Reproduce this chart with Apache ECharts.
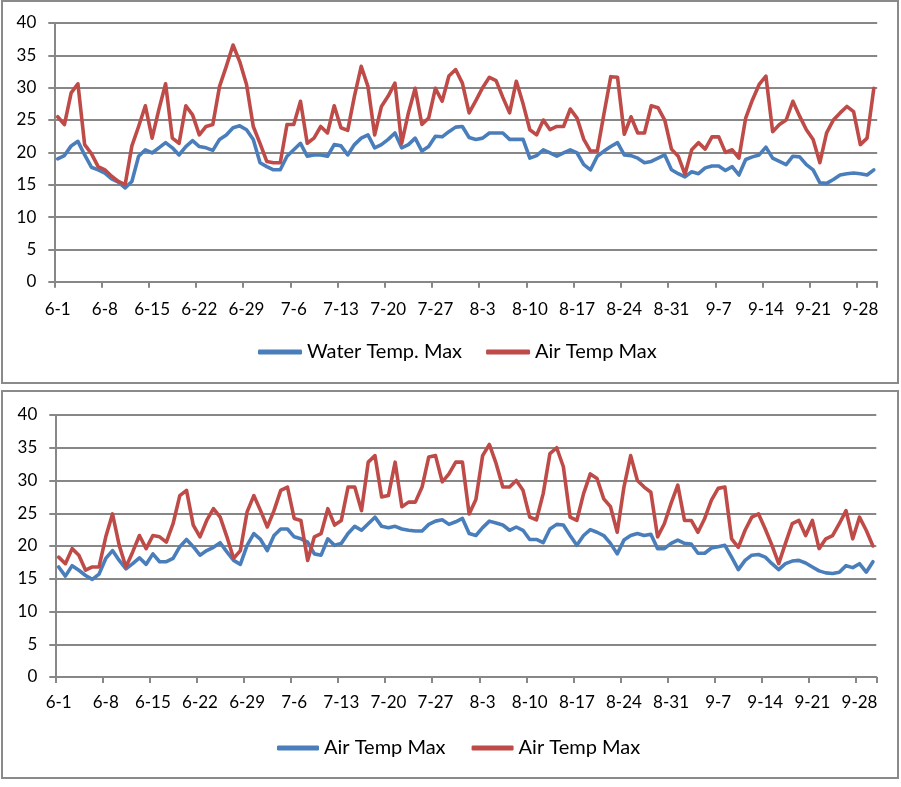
<!DOCTYPE html>
<html><head><meta charset="utf-8">
<script src="https://cdn.jsdelivr.net/npm/echarts@6/dist/echarts.min.js"></script>
<style>html,body{margin:0;padding:0;background:#fff}#c{width:901px;height:787px}</style>
</head><body><div id="c"></div><script>
const categories = [
'6-1','6-2','6-3','6-4','6-5','6-6','6-7','6-8','6-9','6-10','6-11','6-12','6-13','6-14','6-15','6-16','6-17','6-18','6-19','6-20','6-21','6-22','6-23','6-24','6-25','6-26','6-27','6-28','6-29','6-30',
'7-1','7-2','7-3','7-4','7-5','7-6','7-7','7-8','7-9','7-10','7-11','7-12','7-13','7-14','7-15','7-16','7-17','7-18','7-19','7-20','7-21','7-22','7-23','7-24','7-25','7-26','7-27','7-28','7-29','7-30','7-31',
'8-1','8-2','8-3','8-4','8-5','8-6','8-7','8-8','8-9','8-10','8-11','8-12','8-13','8-14','8-15','8-16','8-17','8-18','8-19','8-20','8-21','8-22','8-23','8-24','8-25','8-26','8-27','8-28','8-29','8-30','8-31',
'9-1','9-2','9-3','9-4','9-5','9-6','9-7','9-8','9-9','9-10','9-11','9-12','9-13','9-14','9-15','9-16','9-17','9-18','9-19','9-20','9-21','9-22','9-23','9-24','9-25','9-26','9-27','9-28','9-29','9-30'];

const yTicks = [0,5,10,15,20,25,30,35,40];

// Top chart
const waterTempMax = [
19.0,19.5,21.0,21.7,19.6,17.7,17.3,16.8,15.9,15.4,14.5,15.5,19.4,20.4,19.9,20.7,21.5,20.7,19.6,20.9,21.8,20.9,20.7,20.3,22.0,22.7,23.8,24.1,23.5,22.0,
18.4,17.8,17.3,17.3,19.4,20.4,21.4,19.4,19.6,19.6,19.4,21.2,21.0,19.6,21.2,22.2,22.7,20.7,21.2,22.0,23.0,20.7,21.2,22.2,20.2,20.9,22.5,22.4,23.2,23.9,24.0,
22.3,22.0,22.2,23.0,23.0,23.0,22.0,22.0,22.0,19.1,19.5,20.4,19.9,19.4,19.9,20.4,19.9,18.1,17.3,19.4,20.2,20.9,21.5,19.6,19.5,19.1,18.4,18.6,19.1,19.6,17.3,
16.7,16.2,17.0,16.7,17.6,17.9,17.9,17.2,17.8,16.5,18.9,19.3,19.6,20.8,19.1,18.6,18.1,19.4,19.3,18.1,17.3,15.3,15.2,15.8,16.5,16.7,16.8,16.7,16.5,17.3];

const airTempMaxTop = [
25.5,24.3,29.2,30.6,21.2,19.8,17.8,17.3,16.3,15.5,15.0,21.0,24.0,27.2,22.2,26.6,30.6,22.2,21.4,27.2,25.8,22.7,24.0,24.3,30.2,33.3,36.6,34.0,30.5,24.0,
21.4,18.6,18.4,18.4,24.3,24.3,27.9,21.4,22.2,24.0,23.0,27.2,23.8,23.4,28.7,33.3,30.2,22.7,27.1,28.7,30.7,21.4,26.1,29.9,24.3,25.3,29.9,27.9,31.8,32.8,30.7,
26.1,28.0,30.0,31.6,31.1,28.5,26.1,31.0,27.5,23.5,22.7,25.0,23.5,24.0,24.0,26.7,25.3,22.0,20.2,20.2,26.0,31.7,31.6,22.8,25.5,23.0,23.0,27.2,26.9,25.0,20.5,
19.4,16.6,20.4,21.5,20.5,22.4,22.4,20.0,20.4,19.1,25.3,28.1,30.5,31.8,23.2,24.3,25.0,27.9,25.6,23.5,22.0,18.4,23.0,25.0,26.1,27.1,26.3,21.2,22.2,29.9];

// Bottom chart
const airTempMaxBlue = [
16.8,15.4,17.0,16.3,15.5,14.9,15.7,18.1,19.3,17.8,16.5,17.3,18.2,17.2,18.8,17.6,17.6,18.1,19.9,21.0,19.9,18.6,19.3,19.8,20.5,19.1,17.8,17.2,20.1,21.9,
21.0,19.3,21.6,22.6,22.6,21.4,21.1,20.6,18.8,18.6,21.1,20.1,20.4,21.9,23.0,22.4,23.4,24.4,23.0,22.8,23.0,22.6,22.4,22.3,22.3,23.3,23.8,24.0,23.3,23.7,24.2,
21.9,21.6,22.8,23.8,23.5,23.2,22.4,22.9,22.4,21.0,21.0,20.5,22.6,23.3,23.2,21.6,20.1,21.6,22.5,22.1,21.6,20.4,18.8,20.9,21.6,21.9,21.6,21.8,19.6,19.6,20.4,
20.9,20.4,20.3,18.9,18.9,19.7,19.9,20.1,18.3,16.4,17.8,18.6,18.7,18.3,17.3,16.4,17.3,17.7,17.8,17.4,16.8,16.2,15.9,15.8,16.0,17.0,16.7,17.3,16.0,17.6];

const airTempMaxRed = [
18.3,17.3,19.6,18.6,16.3,16.8,16.8,21.4,24.9,20.1,16.8,19.1,21.6,19.6,21.6,21.4,20.6,23.4,27.7,28.5,23.2,21.4,23.9,25.7,24.4,21.4,18.1,19.3,25.2,27.7,
25.4,22.9,25.4,28.5,29.0,24.2,23.9,17.8,21.4,21.9,25.7,23.2,23.9,29.0,29.0,25.4,32.8,33.8,27.5,27.7,32.8,26.0,26.7,26.7,29.0,33.6,33.8,29.8,31.0,32.8,32.8,
24.9,27.1,33.8,35.5,32.6,29.0,29.0,30.0,28.5,24.4,24.0,28.0,34.1,35.0,32.1,24.4,23.9,28.0,31.0,30.3,27.2,26.0,22.1,29.0,33.8,30.0,29.0,28.2,21.4,23.4,26.5,
29.3,23.9,23.9,22.1,24.2,27.0,28.8,29.0,21.1,19.8,22.4,24.4,24.9,22.6,20.1,17.3,20.4,23.4,23.9,21.6,23.9,19.6,21.1,21.6,23.4,25.4,21.1,24.4,22.4,20.0];

const seriesNames = ['Water Temp. Max','Air Temp Max#top','Air Temp Max#blue','Air Temp Max#red'];
const BLUE = '#4A7EBB', RED = '#BE4B48', GRID = '#878787', FONT = 'Lato';

const chart = echarts.init(document.getElementById('c'), null, {renderer:'canvas'});

function xAxis(gi, margin){
  return {
    type:'category', gridIndex:gi, data:categories, boundaryGap:true,
    axisLine:{show:true, lineStyle:{color:GRID, width:2}},
    axisTick:{show:true, interval:6, length:6, lineStyle:{color:GRID, width:2}},
    axisLabel:{interval:6, margin:margin, color:'#000', fontFamily:FONT, fontSize:17},
    splitLine:{show:false}
  };
}
function yAxis(gi){
  return {
    type:'value', gridIndex:gi, min:0, max:40, interval:5,
    axisLine:{show:true, lineStyle:{color:GRID, width:2}},
    axisTick:{show:true, length:6, lineStyle:{color:GRID, width:2}},
    axisLabel:{margin:18, color:'#000', fontFamily:FONT, fontSize:17},
    splitLine:{show:true, lineStyle:{color:GRID, width:2}}
  };
}
function line(name, data, color, gi){
  return {
    type:'line', name:name, data:data, xAxisIndex:gi, yAxisIndex:gi,
    showSymbol:false, symbol:'none', smooth:false, animation:false,
    lineStyle:{color:color, width:3.6, cap:'round', join:'round'},
    itemStyle:{color:color}
  };
}
const legendFmt = n => n.split('#')[0];

chart.setOption({
  animation:false,
  backgroundColor:'#fff',
  textStyle:{fontFamily:FONT},
  grid:[
    {left:54.3, top:23, width:822.9, height:258.7, containLabel:false},
    {left:55.3, top:415, width:821, height:262, containLabel:false}
  ],
  xAxis:[xAxis(0, 19), xAxis(1, 17)],
  yAxis:[yAxis(0), yAxis(1)],
  legend:[
    {data:[seriesNames[0], seriesNames[1]], left:253, top:337, itemWidth:44, itemHeight:5, icon:'roundRect', itemGap:24,
     formatter:legendFmt, textStyle:{color:'#000', fontFamily:FONT, fontSize:20}, selectedMode:false},
    {data:[seriesNames[2], seriesNames[3]], left:272, top:733, itemWidth:42, itemHeight:5, icon:'roundRect', itemGap:26,
     formatter:legendFmt, textStyle:{color:'#000', fontFamily:FONT, fontSize:20}, selectedMode:false}
  ],
  graphic:[
    {type:'rect', shape:{x:2, y:1, width:896, height:382}, style:{fill:'none', stroke:'#8a8a8a', lineWidth:2}, silent:true},
    {type:'rect', shape:{x:2, y:391, width:896, height:387}, style:{fill:'none', stroke:'#8a8a8a', lineWidth:2}, silent:true}
  ],
  series:[
    line(seriesNames[0], waterTempMax, BLUE, 0),
    line(seriesNames[1], airTempMaxTop, RED, 0),
    line(seriesNames[2], airTempMaxBlue, BLUE, 1),
    line(seriesNames[3], airTempMaxRed, RED, 1)
  ]
});
</script></body></html>
